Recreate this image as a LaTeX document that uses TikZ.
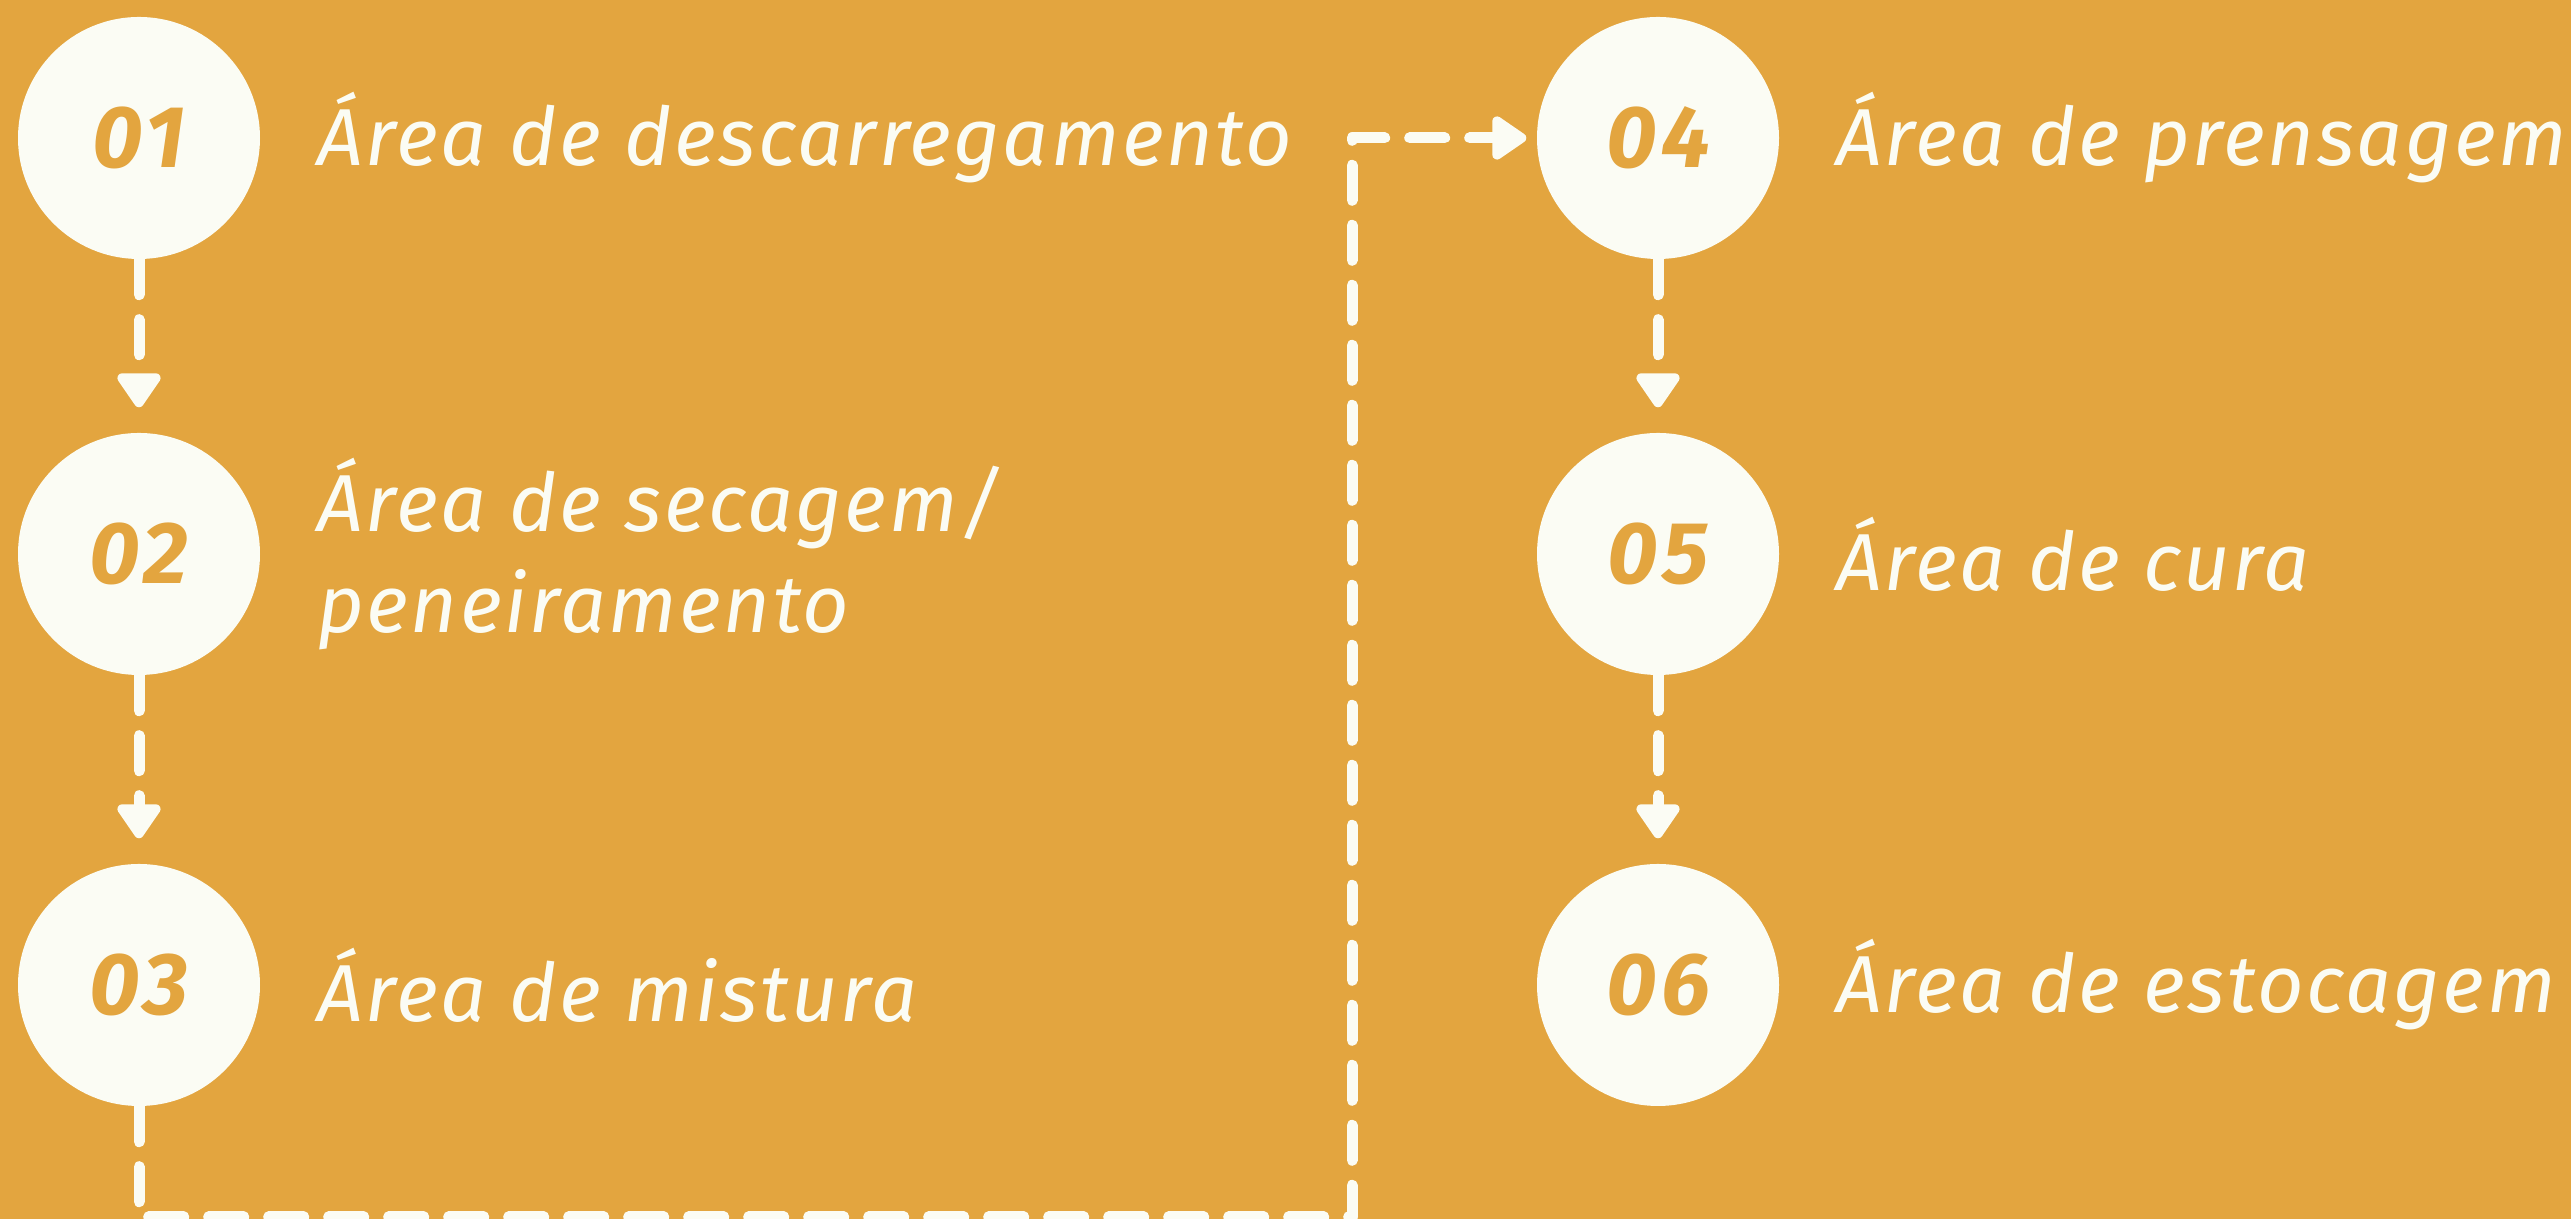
\documentclass[tikz,border=0pt]{standalone}
\usepackage{fontspec}
\setmainfont{Fira Sans}
\newfontfamily\stepfont{Fira Sans}[LetterSpace=3]
\newfontfamily\numfont{Fira Sans}[LetterSpace=5]
\usetikzlibrary{arrows.meta,positioning}
\definecolor{bgorange}{HTML}{E3A53F}
\definecolor{chalk}{HTML}{FBFCF4}

\begin{document}
\begin{tikzpicture}[
    stepcircle/.style={circle, fill=chalk, minimum size=2.42cm, inner sep=0pt, text=bgorange, font=\numfont\fontsize{25}{30}\selectfont\bfseries\itshape},
    steplabel/.style={text=chalk, align=left, inner sep=0pt, font=\stepfont\fontsize{23}{28.7}\selectfont\itshape},
    flow/.style={draw=chalk, line width=1.1mm, line cap=round, line join=round, dash pattern=on 3.5mm off 2.5mm, -{Triangle[length=3.8mm, width=4.9mm, round]}}
]

% Background
\fill[bgorange] (0,0) rectangle (25.71,12.19);
\useasboundingbox (0,0) rectangle (25.71,12.19);

% Steps
\node[stepcircle] (s1) at (1.39,10.81) {01};
\node[stepcircle] (s2) at (1.39,6.65) {02};
\node[stepcircle] (s3) at (1.39,2.34) {03};
\node[stepcircle] (s4) at (16.58,10.81) {04};
\node[stepcircle] (s5) at (16.58,6.65) {05};
\node[stepcircle] (s6) at (16.58,2.34) {06};

% Labels
\node[steplabel, right=0.56cm of s1] (l1) {Área de descarregamento};
\node[steplabel, right=0.56cm of s2] (l2) {Área de secagem/\\peneiramento};
\node[steplabel, right=0.56cm of s3] (l3) {Área de mistura};
\node[steplabel, right=0.56cm of s4] (l4) {Área de prensagem};
\node[steplabel, right=0.56cm of s5] (l5) {Área de cura};
\node[steplabel, right=0.56cm of s6] (l6) {Área de estocagem};

% Flow
\coordinate (bl) at (1.39,0.02);
\coordinate (br) at (13.52,0.02);
\draw[flow, shorten >=0.25cm] (s1) -- (s2);
\draw[flow, shorten >=0.25cm] (s2) -- (s3);
\draw[flow, shorten >=0.1cm] (s3) -- (bl) -- (br) |- (s4);
\draw[flow, shorten >=0.25cm] (s4) -- (s5);
\draw[flow, shorten >=0.25cm] (s5) -- (s6);

\end{tikzpicture}
\end{document}
